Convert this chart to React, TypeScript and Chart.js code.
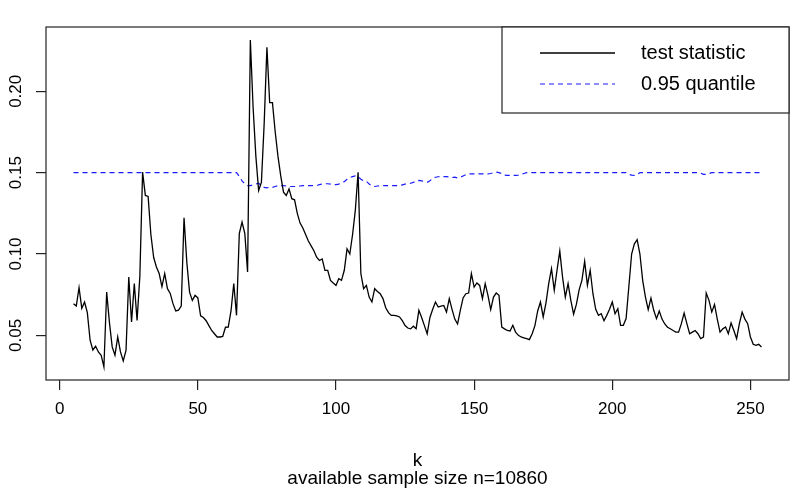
import React, { useEffect, useRef } from "react";
import { Chart, registerables } from "chart.js";

Chart.register(...registerables);

const K_START = 5;
const K_END = 254;

const TEST_STAT = [
  0.0695, 0.068, 0.0793, 0.0666, 0.0705, 0.064, 0.047, 0.041, 0.0433, 0.0398,
  0.0378, 0.0306, 0.0766, 0.058, 0.0429, 0.0378, 0.049, 0.0398, 0.0343, 0.0408,
  0.0858, 0.0582, 0.0818, 0.0592, 0.086, 0.1503, 0.136, 0.1354, 0.112, 0.098,
  0.092, 0.088, 0.08, 0.088, 0.0787, 0.0758, 0.0695, 0.065, 0.0655, 0.068,
  0.1223, 0.095, 0.0766, 0.0715, 0.0746, 0.073, 0.062, 0.061, 0.059, 0.056,
  0.053, 0.051, 0.049, 0.049, 0.0494, 0.055, 0.0551, 0.065, 0.0818, 0.0623,
  0.1125, 0.1196, 0.1125, 0.0889, 0.2315, 0.19, 0.16, 0.139, 0.144, 0.18,
  0.227, 0.193, 0.193, 0.175, 0.16, 0.148, 0.138, 0.136, 0.14, 0.134,
  0.1333, 0.125, 0.119, 0.116, 0.112, 0.108, 0.105, 0.102, 0.098, 0.096,
  0.097, 0.09, 0.09, 0.0838, 0.0822, 0.0807, 0.0848, 0.0838, 0.09, 0.1032,
  0.1, 0.112, 0.127, 0.1503, 0.088, 0.0787, 0.0807, 0.0735, 0.0705, 0.0787,
  0.077, 0.0756, 0.0726, 0.067, 0.064, 0.0623, 0.0623, 0.062, 0.0613, 0.059,
  0.056, 0.0545, 0.054, 0.0556, 0.0541, 0.0654, 0.061, 0.056, 0.051, 0.061,
  0.066, 0.0705, 0.0674, 0.068, 0.0684, 0.0643, 0.0726, 0.066, 0.06, 0.057,
  0.0654, 0.073, 0.0756, 0.076, 0.088, 0.0797, 0.0822, 0.0807, 0.0726, 0.0818,
  0.0746, 0.0658, 0.0735, 0.076, 0.0746, 0.0551, 0.054, 0.053, 0.0527, 0.0562,
  0.052, 0.05, 0.049, 0.0485, 0.048, 0.0474, 0.051, 0.056, 0.065, 0.0705,
  0.0613, 0.07, 0.082, 0.091, 0.0777, 0.09, 0.1018, 0.0858, 0.0735, 0.0818,
  0.0715, 0.063, 0.069, 0.078, 0.0838, 0.0955, 0.0807, 0.09, 0.0756, 0.066,
  0.0623, 0.0633, 0.059, 0.0623, 0.066, 0.0705, 0.0633, 0.0664, 0.0562, 0.0562,
  0.0603, 0.08, 0.1, 0.1063, 0.1088, 0.1, 0.0838, 0.0735, 0.0658, 0.0729,
  0.0654, 0.0603, 0.065, 0.06, 0.057, 0.055, 0.0541, 0.053, 0.052, 0.052,
  0.0572, 0.0637, 0.0572, 0.051, 0.052, 0.053, 0.051, 0.048, 0.049, 0.076,
  0.0715, 0.0643, 0.069, 0.06, 0.052, 0.054, 0.0551, 0.051, 0.0576, 0.053,
  0.048, 0.0572, 0.0643, 0.06, 0.0572, 0.049, 0.0445, 0.0439, 0.0445, 0.0429,
];

const QUANTILE = [
  0.15, 0.15, 0.15, 0.15, 0.15, 0.15, 0.15, 0.15, 0.15, 0.15,
  0.15, 0.15, 0.15, 0.15, 0.15, 0.15, 0.15, 0.15, 0.15, 0.15,
  0.15, 0.15, 0.15, 0.15, 0.15, 0.15, 0.15, 0.15, 0.15, 0.15,
  0.15, 0.15, 0.15, 0.15, 0.15, 0.15, 0.15, 0.15, 0.15, 0.15,
  0.15, 0.15, 0.15, 0.15, 0.15, 0.15, 0.15, 0.15, 0.15, 0.15,
  0.15, 0.15, 0.15, 0.15, 0.15, 0.15, 0.15, 0.15, 0.15, 0.15,
  0.1477, 0.145, 0.143, 0.142, 0.142, 0.1425, 0.143, 0.1435, 0.142, 0.141,
  0.1407, 0.141, 0.141, 0.1415, 0.142, 0.142, 0.142, 0.1418, 0.1415, 0.1415,
  0.1415, 0.1415, 0.1418, 0.142, 0.142, 0.142, 0.142, 0.142, 0.142, 0.1427,
  0.143, 0.1432, 0.1432, 0.143, 0.1427, 0.1427, 0.143, 0.1438, 0.1445, 0.146,
  0.147, 0.1476, 0.148, 0.1476, 0.146, 0.145, 0.1448, 0.143, 0.142, 0.1415,
  0.1418, 0.142, 0.142, 0.142, 0.142, 0.142, 0.142, 0.142, 0.142, 0.1425,
  0.143, 0.1432, 0.1435, 0.144, 0.145, 0.1452, 0.145, 0.1445, 0.1441, 0.145,
  0.1465, 0.1472, 0.1475, 0.1476, 0.1476, 0.1476, 0.1474, 0.147, 0.1472, 0.1468,
  0.1472, 0.148, 0.1488, 0.1493, 0.1493, 0.1493, 0.1493, 0.1493, 0.1493, 0.1493,
  0.1493, 0.1495, 0.15, 0.1503, 0.15, 0.1495, 0.1485, 0.1483, 0.1483, 0.1483,
  0.1483, 0.1485, 0.149, 0.1495, 0.15, 0.1503, 0.15, 0.15, 0.15, 0.15,
  0.15, 0.15, 0.15, 0.15, 0.15, 0.15, 0.15, 0.15, 0.15, 0.15,
  0.15, 0.15, 0.15, 0.15, 0.15, 0.15, 0.15, 0.15, 0.15, 0.15,
  0.15, 0.15, 0.15, 0.15, 0.15, 0.15, 0.15, 0.15, 0.15, 0.15,
  0.15, 0.149, 0.1485, 0.1483, 0.149, 0.15, 0.15, 0.15, 0.15, 0.15,
  0.15, 0.15, 0.15, 0.15, 0.15, 0.15, 0.15, 0.15, 0.15, 0.15,
  0.15, 0.15, 0.15, 0.15, 0.15, 0.15, 0.15, 0.1497, 0.149, 0.149,
  0.1495, 0.15, 0.15, 0.15, 0.15, 0.15, 0.15, 0.15, 0.15, 0.15,
  0.15, 0.15, 0.15, 0.15, 0.15, 0.15, 0.15, 0.15, 0.15, 0.15,
];

const K_VALUES = Array.from({ length: K_END - K_START + 1 }, (_, i) => K_START + i);

const X_TICKS = [0, 50, 100, 150, 200, 250];
const Y_TICKS = [0.05, 0.1, 0.15, 0.2];
const Y_TICK_LABELS = ["0.05", "0.10", "0.15", "0.20"];

const SERIES_NAMES = ["test statistic", "0.95 quantile"];
const X_TITLE = "k";
const X_SUBTITLE = "available sample size n=10860";

const FONT = "'Liberation Sans', Arial, Helvetica, sans-serif";
const TICK_SIZE = 17;
const TITLE_SIZE = 19;
const LEGEND_SIZE = 20;

export default function App() {
  const ref = useRef<HTMLCanvasElement | null>(null);

  useEffect(() => {
    document.body.style.margin = "0";
    const canvas = ref.current;
    if (!canvas) return;

    const xRange = K_END - K_START;
    const xMin = K_START - 0.04 * xRange;
    const xMax = K_END + 0.04 * xRange;
    const yLo = Math.min(...TEST_STAT, ...QUANTILE);
    const yHi = Math.max(...TEST_STAT, ...QUANTILE);
    const yMin = yLo - 0.04 * (yHi - yLo);
    const yMax = yHi + 0.04 * (yHi - yLo);

    const decor = {
      id: "rdecor",
      afterDraw(chart: any) {
        const { ctx, chartArea } = chart;
        const ys = chart.scales.y;
        ctx.save();
        ctx.strokeStyle = "#222";
        ctx.lineWidth = 1.2;
        ctx.strokeRect(chartArea.left, chartArea.top, chartArea.right - chartArea.left, chartArea.bottom - chartArea.top);

        ctx.fillStyle = "#000";
        ctx.font = `${TICK_SIZE}px ${FONT}`;
        ctx.textAlign = "center";
        ctx.textBaseline = "middle";
        Y_TICKS.forEach((v, i) => {
          const py = ys.getPixelForValue(v);
          ctx.save();
          ctx.translate(16, py);
          ctx.rotate(-Math.PI / 2);
          ctx.fillText(Y_TICK_LABELS[i], 0, 0);
          ctx.restore();
        });

        const cx = (chartArea.left + chartArea.right) / 2;
        ctx.font = `${TITLE_SIZE}px ${FONT}`;
        ctx.fillText(X_TITLE, cx, 461);
        ctx.fillText(X_SUBTITLE, cx, 479);

        const lx0 = 502;
        const ly0 = chartArea.top;
        const lx1 = chartArea.right;
        const ly1 = 113;
        ctx.fillStyle = "#fff";
        ctx.fillRect(lx0, ly0, lx1 - lx0, ly1 - ly0);
        ctx.strokeStyle = "#222";
        ctx.lineWidth = 1.2;
        ctx.strokeRect(lx0, ly0, lx1 - lx0, ly1 - ly0);
        const rows = [53, 84];
        chart.data.datasets.forEach((ds: any, i: number) => {
          ctx.save();
          ctx.strokeStyle = ds.borderColor;
          ctx.lineWidth = ds.borderWidth;
          ctx.setLineDash(ds.borderDash || []);
          ctx.beginPath();
          ctx.moveTo(540, rows[i]);
          ctx.lineTo(615, rows[i]);
          ctx.stroke();
          ctx.restore();
          ctx.fillStyle = "#000";
          ctx.font = `${LEGEND_SIZE}px ${FONT}`;
          ctx.textAlign = "left";
          ctx.textBaseline = "middle";
          ctx.fillText(ds.label, 641, rows[i]);
        });
        ctx.restore();
      },
    };

    const chart = new Chart(canvas, {
      type: "line",
      data: {
        datasets: [
          {
            label: SERIES_NAMES[0],
            data: K_VALUES.map((k, i) => ({ x: k, y: TEST_STAT[i] })),
            borderColor: "#000000",
            borderWidth: 1.3,
            pointRadius: 0,
            tension: 0,
            fill: false,
          },
          {
            label: SERIES_NAMES[1],
            data: K_VALUES.map((k, i) => ({ x: k, y: QUANTILE[i] })),
            borderColor: "#1a1aff",
            borderWidth: 1.2,
            borderDash: [5, 4],
            pointRadius: 0,
            tension: 0,
            fill: false,
          },
        ],
      },
      options: {
        responsive: false,
        animation: false,
        events: [],
        layout: { padding: { top: 27, right: 8, left: 0, bottom: 0 } },
        plugins: { legend: { display: false }, tooltip: { enabled: false } },
        scales: {
          x: {
            type: "linear",
            min: xMin,
            max: xMax,
            afterBuildTicks: (s: any) => {
              s.ticks = X_TICKS.map((v) => ({ value: v }));
            },
            afterFit: (s: any) => {
              s.height = 112;
            },
            grid: { drawOnChartArea: false, drawTicks: true, tickLength: 10, color: "#222", lineWidth: 1.2 },
            border: { display: false },
            ticks: {
              color: "#000",
              font: { family: FONT, size: TICK_SIZE },
              padding: 9,
              maxRotation: 0,
              minRotation: 0,
              autoSkip: false,
              callback: (v: any) => String(v),
            },
          },
          y: {
            type: "linear",
            min: yMin,
            max: yMax,
            afterBuildTicks: (s: any) => {
              s.ticks = Y_TICKS.map((v) => ({ value: v }));
            },
            afterFit: (s: any) => {
              s.width = 46;
            },
            grid: { drawOnChartArea: false, drawTicks: true, tickLength: 10, color: "#222", lineWidth: 1.2 },
            border: { display: false },
            ticks: { display: false },
          },
        },
      },
      plugins: [decor],
    } as any);

    return () => chart.destroy();
  }, []);

  return (
    <div style={{ width: 797, height: 492, position: "relative", background: "#fff" }}>
      <canvas ref={ref} width={797} height={492} style={{ display: "block" }} />
    </div>
  );
}
